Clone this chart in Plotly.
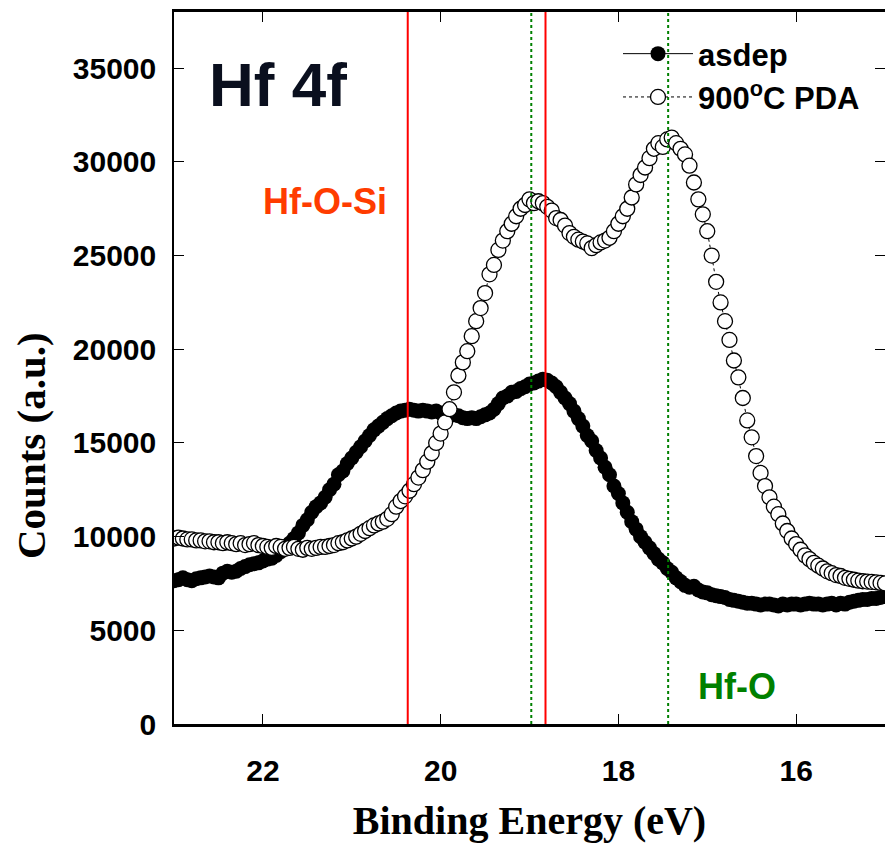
import plotly.graph_objects as go

# Binding energy grid (eV), 0.05 eV step from 23.0 down to 15.0
energy = [round(23.0 - 0.05 * i, 2) for i in range(161)]

asdep = [
    7650, 7700, 7800, 7700, 7650, 7750, 7800, 7850, 7900, 7850,
    7800, 8050, 8150, 8100, 8150, 8300, 8400, 8500, 8550, 8600,
    8700, 8800, 8850, 9000, 9200, 9400, 9650, 9900, 10200, 10600,
    10900, 11300, 11600, 11800, 12100, 12500, 12800, 13300, 13500, 13900,
    14200, 14500, 14800, 15100, 15400, 15700, 15900, 16100, 16300, 16450,
    16600, 16700, 16750, 16800, 16750, 16700, 16750, 16700, 16650, 16700,
    16600, 16600, 16550, 16500, 16450, 16350, 16300, 16350, 16300, 16400,
    16500, 16600, 16800, 17100, 17400, 17500, 17700, 17750, 17900, 18000,
    18150, 18200, 18300, 18400, 18350, 18200, 18000, 17700, 17400, 17100,
    16700, 16300, 15900, 15400, 15100, 14600, 14200, 13700, 13300, 12700,
    12300, 11800, 11300, 10800, 10400, 10000, 9700, 9400, 9100, 8800,
    8600, 8300, 8100, 7800, 7600, 7400, 7300, 7350, 7150, 7050,
    7000, 6900, 6850, 6800, 6750, 6650, 6600, 6550, 6500, 6450,
    6450, 6400, 6350, 6400, 6400, 6350, 6300, 6400, 6350, 6400,
    6400, 6350, 6400, 6450, 6400, 6400, 6350, 6400, 6450, 6350,
    6450, 6400, 6500, 6550, 6600, 6650, 6650, 6700, 6700, 6750,
    6800,
]

pda900 = [
    9900, 9950, 9900, 9850, 9850, 9800, 9800, 9750, 9750, 9700,
    9700, 9650, 9700, 9650, 9600, 9650, 9550, 9600, 9650, 9550,
    9500, 9450, 9400, 9500, 9450, 9350, 9400, 9450, 9350, 9300,
    9400, 9350, 9400, 9450, 9450, 9500, 9550, 9650, 9700, 9800,
    9900, 10000, 10150, 10300, 10450, 10600, 10700, 10800, 10950, 11200,
    11600, 11900, 12150, 12450, 12800, 13150, 13550, 14000, 14450, 15000,
    15500, 16100, 16800, 17700, 18600, 19300, 19900, 20700, 21500, 22200,
    23000, 24000, 24500, 25300, 25800, 26300, 26700, 27100, 27500, 27700,
    28000, 27800, 27900, 27800, 27600, 27400, 27000, 26900, 26600, 26200,
    26000, 25850, 25750, 25650, 25400, 25550, 25700, 25800, 25950, 26300,
    26700, 27100, 27500, 28100, 28800, 29300, 29700, 30200, 30700, 31000,
    30800, 31200, 31300, 31000, 30700, 30400, 29800, 28900, 28000, 27200,
    26300, 25000, 23600, 22500, 21500, 20500, 19400, 18500, 17400, 16200,
    15300, 14300, 13400, 12700, 12100, 11600, 11200, 10700, 10300, 9900,
    9600, 9300, 9000, 8800, 8600, 8450, 8300, 8150, 8050, 7950,
    7900, 7800, 7750, 7700, 7650, 7620, 7600, 7580, 7560, 7530,
    7500,
]

series_names = ["asdep", "900<sup>o</sup>C PDA"]
hfosi_lines = [20.37, 18.82]   # red solid reference lines
hfo_lines = [18.98, 17.44]     # green dotted reference lines
x_ticks = [22, 20, 18, 16]
y_ticks = [0, 5000, 10000, 15000, 20000, 25000, 30000, 35000]

SANS = "Arial, Liberation Sans, sans-serif"
SERIF = "Times New Roman, Liberation Serif, serif"

PLOT_L, PLOT_R, PLOT_T, PLOT_B = 174, 885, 12, 724


def px_to_paper_x(px):
    return (px - PLOT_L) / float(PLOT_R - PLOT_L)


def px_to_paper_y(py):
    return (PLOT_B - py) / float(PLOT_B - PLOT_T)


fig = go.Figure()
fig.add_trace(go.Scatter(
    x=energy, y=asdep, name=series_names[0], mode="lines+markers",
    line=dict(color="black", width=1),
    marker=dict(symbol="circle", size=15, color="black", line=dict(width=0)),
))
fig.add_trace(go.Scatter(
    x=energy, y=pda900, name=series_names[1], mode="lines+markers",
    line=dict(color="black", width=1, dash="dot"),
    marker=dict(symbol="circle", size=15, color="white", line=dict(color="black", width=1.3)),
))
# invisible trace carrying the right-side mirrored y ticks
fig.add_trace(go.Scatter(x=[energy[0]], y=[asdep[0]], yaxis="y2", mode="markers",
                         marker=dict(opacity=0), showlegend=False, hoverinfo="skip"))

shapes = []
for e in hfosi_lines:
    shapes.append(dict(type="line", xref="x", yref="paper", x0=e, x1=e, y0=0, y1=1,
                       line=dict(color="#ff0000", width=2), layer="above"))
for e in hfo_lines:
    shapes.append(dict(type="line", xref="x", yref="paper", x0=e, x1=e, y0=0, y1=1,
                       line=dict(color="#008000", width=2, dash="dot"), layer="above"))

annotations = [
    dict(text="Hf 4f", x=px_to_paper_x(278), y=px_to_paper_y(85),
         font=dict(family=SANS, size=62, color="#0a0f1e", weight="bold")),
    dict(text="Hf-O-Si", x=px_to_paper_x(325), y=px_to_paper_y(201),
         font=dict(family=SANS, size=36, color="#ff3c00", weight="bold")),
    dict(text="Hf-O", x=px_to_paper_x(737), y=px_to_paper_y(686),
         font=dict(family=SANS, size=36, color="#008000", weight="bold")),
    dict(text="Counts (a.u.)", x=px_to_paper_x(31), y=px_to_paper_y(446), textangle=-90,
         font=dict(family=SERIF, size=41, color="black", weight="bold")),
]
for a in annotations:
    a.update(xref="paper", yref="paper", xanchor="center", yanchor="middle", showarrow=False)

fig.update_layout(
    width=885, height=843,
    margin=dict(l=PLOT_L, r=885 - PLOT_R, t=PLOT_T, b=843 - PLOT_B),
    plot_bgcolor="white", paper_bgcolor="white",
    showlegend=True,
    legend=dict(x=px_to_paper_x(618), y=px_to_paper_y(27), xanchor="left", yanchor="top",
                bgcolor="rgba(0,0,0,0)",
                font=dict(family=SANS, size=31, color="black", weight="bold"),
                itemwidth=70),
    shapes=shapes,
    annotations=annotations,
    xaxis=dict(range=[23, 15], tickvals=x_ticks, ticks="inside", ticklen=10, tickwidth=1,
               tickcolor="black", showline=True, linewidth=3, linecolor="black", mirror="ticks",
               showgrid=False, zeroline=False, ticklabelstandoff=18,
               tickfont=dict(family=SANS, size=30, color="black", weight="bold"),
               title=dict(text="Binding Energy (eV)", standoff=26,
                          font=dict(family=SERIF, size=40, color="black", weight="bold"))),
    yaxis=dict(range=[0, 38000], tickvals=y_ticks, tickformat="d", ticks="inside",
               ticklen=10, tickwidth=1,
               tickcolor="black", showline=True, linewidth=1.5, linecolor="black",
               showgrid=False, zeroline=False, ticklabelstandoff=10,
               tickfont=dict(family=SANS, size=30, color="black", weight="bold")),
    yaxis2=dict(range=[0, 38000], overlaying="y", side="right", tickvals=y_ticks,
                ticks="inside", ticklen=10, tickwidth=1, tickcolor="black",
                showticklabels=False, showline=False, showgrid=False, zeroline=False),
)

fig.write_html("out.html")
